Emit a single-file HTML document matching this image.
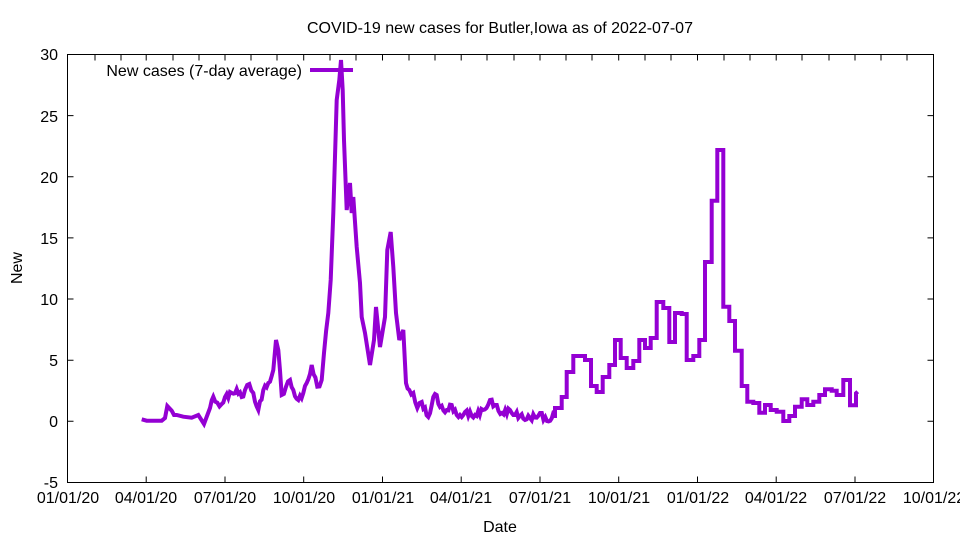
<!DOCTYPE html>
<html><head><meta charset="utf-8"><style>
html,body{margin:0;padding:0;background:#fff;}
svg{display:block;font-family:"Liberation Sans",sans-serif;}
</style></head><body>
<svg width="960" height="540" viewBox="0 0 960 540" xmlns="http://www.w3.org/2000/svg">
<rect width="960" height="540" fill="#fff"/>
<text x="500" y="33" font-size="16" text-anchor="middle">COVID-19 new cases for Butler,Iowa as of 2022-07-07</text>
<g stroke="#000" stroke-width="1" fill="none">
<rect x="67.5" y="54.5" width="866" height="428"/>
<path d="M67.5 482.5h6M67.5 421.3h6M67.5 360.2h6M67.5 299h6M67.5 237.9h6M67.5 176.7h6M67.5 115.6h6M67.5 54.5h6M933.5 482.5h-6M933.5 421.3h-6M933.5 360.2h-6M933.5 299h-6M933.5 237.9h-6M933.5 176.7h-6M933.5 115.6h-6"/>
<path d="M67.5 482.5v-6M146.2 482.5v-6M225 482.5v-6M303.7 482.5v-6M382.5 482.5v-6M461.2 482.5v-6M540 482.5v-6M618.7 482.5v-6M697.5 482.5v-6M776.2 482.5v-6M855 482.5v-6M933.5 482.5v-6
M95 54.5v6M121 54.5v6M146.2 54.5v6M173 54.5v6M199 54.5v6M225 54.5v6M251 54.5v6M277 54.5v6M303.7 54.5v6M330 54.5v6M356 54.5v6M382.5 54.5v6M409 54.5v6M435 54.5v6M461.2 54.5v6M487 54.5v6M514 54.5v6M540 54.5v6M566 54.5v6M592 54.5v6M618.7 54.5v6M645 54.5v6M671 54.5v6M697.5 54.5v6M724 54.5v6M750 54.5v6M776.2 54.5v6M802 54.5v6M829 54.5v6M855 54.5v6M881 54.5v6M907 54.5v6"/>
</g>
<g font-size="16" text-anchor="end">
<text x="58" y="488">-5</text><text x="58" y="427">0</text><text x="58" y="366">5</text><text x="58" y="305">10</text><text x="58" y="244">15</text><text x="58" y="183">20</text><text x="58" y="122">25</text><text x="58" y="60">30</text>
</g>
<g font-size="16" text-anchor="middle">
<text x="68" y="503">01/01/20</text><text x="146" y="503">04/01/20</text><text x="225" y="503">07/01/20</text><text x="304" y="503">10/01/20</text><text x="383" y="503">01/01/21</text><text x="461" y="503">04/01/21</text><text x="540" y="503">07/01/21</text><text x="619" y="503">10/01/21</text><text x="698" y="503">01/01/22</text><text x="776" y="503">04/01/22</text><text x="855" y="503">07/01/22</text><text x="934" y="503">10/01/22</text>
<text x="500" y="532">Date</text>
<text x="22" y="268" transform="rotate(-90 22 268)">New</text>
</g>
<text x="302" y="76" font-size="16" text-anchor="end">New cases (7-day average)</text>
<line x1="310" y1="70" x2="353" y2="70" stroke="#9400d3" stroke-width="4"/>
<polyline id="ln" fill="none" stroke="#9400d3" stroke-width="4" stroke-linejoin="miter" points=""/>
</svg>
<script>
var raw=[[141.7,419.3],[146.7,420.7],[161.7,420.7],[165,418],[167.3,406],[171.7,410.7],[174,415],[176.7,415],[183.3,416.7],[191.7,417.7],[198.3,415],[204,424],[210,408],[213.3,396.7],[217.3,402.7],[221.7,404],[225,397],[231.7,393],[236.7,389],[241.7,397],[245,390],[249.3,384],[253.3,393],[258.3,410],[263.3,390],[268.3,383],[273.3,370],[276,340],[278.3,350],[281.7,395],[286,386.7],[290,380],[293.3,390],[298.3,400],[303.3,393],[306.7,383],[311.7,365],[317.3,386.7],[321.7,380],[324,353],[328.3,313],[330.7,280],
[333.3,213],[336.7,100],[339.3,80],[341,60],[342.7,90],[344,140],[346.7,210],[350,183],[351.7,213],[353.3,197],[356.7,247],[360,283],[361.7,317],[365,333],[370,365],[374,340],[376,307],[380,347],[385,317],[387.3,250],[390.7,232],[393.3,267],[396,313],[399.3,340],[403.3,330],[406,383],[409.3,390],[413.3,393],[417.3,408],[421.7,402],[428.3,417],[433.3,397],[436.7,395],[440,407],[446.7,410],[451.7,405],[456.7,415],[460,415],
[465,412],[475,415],[483,410],[490,400],[495,405],[502,413],[510,410],[520,416],[530,418],[540,413],[547,421],[555,413]];
var pts=[],k=0;
for(var i=0;i<raw.length;i++){
 var a=raw[i];pts.push(a);
 if(i<raw.length-1){var b=raw[i+1];
  var noisy=(a[0]>=205&&a[0]<330)||(a[0]>=400&&a[0]<555);
  if(noisy){var n=Math.floor((b[0]-a[0])/1.6);
   for(var j=1;j<n;j++){var t=j/n;k++;var amp=(k%3==0?3:(k%2?-2:2));
    pts.push([a[0]+(b[0]-a[0])*t,a[1]+(b[1]-a[1])*t+amp]);}}}
}
var steps=[[555,418],[555,408],[561.7,408],[561.7,397],[566.7,397],[566.7,372],[573.3,372],[573.3,356],[585,356],[585,360],[591,360],[591,386],[596.7,386],[596.7,392],[602.7,392],[602.7,377],[609.3,377],[609.3,365],[615,365],[615,340],[620.7,340],[620.7,358],[626.7,358],[626.7,368],[633.3,368],[633.3,361],[639.3,361],[639.3,340],[645,340],[645,348],[650.7,348],[650.7,338],[656.7,338],[656.7,302],[663.3,302],[663.3,308],[669.3,308],[669.3,342],[675,342],[675,313],[681.7,313],[681.7,314],[686.7,314],[686.7,360],[693.3,360],[693.3,356],[699.3,356],[699.3,340],[705,340],[705,262],[711.7,262],[711.7,200.7],[717.3,200.7],[717.3,150],[723.3,150],[723.3,306.7],[729.3,306.7],[729.3,321],[735,321],[735,350.7],[741.7,350.7],[741.7,386],[747.3,386],[747.3,401.7],[753.3,401.7],[753.3,403],[759.3,403],[759.3,412.7],[765,412.7],[765,405],[770.7,405],[770.7,410],[776.7,410],[776.7,411.7],[783.3,411.7],[783.3,421],[789.3,421],[789.3,416],[795,416],[795,406.7],[801.7,406.7],[801.7,399.3],[807.3,399.3],[807.3,405],[813.3,405],[813.3,401.7],[819.3,401.7],[819.3,395],[825,395],[825,389.3],[831.7,389.3],[831.7,390.7],[836.7,390.7],[836.7,395],[843.3,395],[843.3,380],[850,380],[850,405.3],[856,405.3],[856,393.3],[857.7,391.7]];
pts=pts.concat(steps);
document.getElementById('ln').setAttribute('points',pts.map(function(p){return p[0].toFixed(1)+','+p[1].toFixed(1)}).join(' '));
</script>
</body></html>
